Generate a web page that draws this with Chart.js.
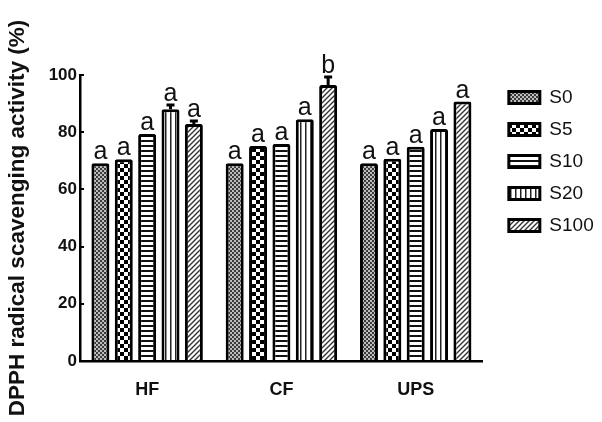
<!DOCTYPE html>
<html>
<head>
<meta charset="utf-8">
<script src="https://cdn.jsdelivr.net/npm/chart.js@4.4.1/dist/chart.umd.min.js"></script>
<style>
  html, body { margin: 0; padding: 0; background: #fff; }
  canvas { display: block; }
</style>
</head>
<body>
<canvas id="c" width="602" height="422"></canvas>
<script>
// Sample groups on the x axis
const categories = ['HF', 'CF', 'UPS'];
// Sugar-treatment series
const seriesNames = ['S0', 'S5', 'S10', 'S20', 'S100'];
// DPPH radical scavenging activity (%) per series, in category order
const S0   = [69.1, 69.1, 69.1];
const S5   = [70.5, 75.2, 70.7];
const S10  = [79.4, 75.9, 74.9];
const S20  = [88.0, 84.5, 81.1];
const S100 = [82.9, 96.5, 90.7];
// Standard deviations
const errS0   = [0, 0, 0];
const errS5   = [0, 0, 0];
const errS10  = [0, 0, 0];
const errS20  = [1.5, 0, 0];
const errS100 = [1.0, 2.8, 0];
// Significance letters
const letS0   = ['a', 'a', 'a'];
const letS5   = ['a', 'a', 'a'];
const letS10  = ['a', 'a', 'a'];
const letS20  = ['a', 'a', 'a'];
const letS100 = ['a', 'b', 'a'];
// Y axis ticks
const yTicks = [0, 20, 40, 60, 80, 100];

const seriesValues = [S0, S5, S10, S20, S100];
const seriesErrors = [errS0, errS5, errS10, errS20, errS100];
const seriesLetters = [letS0, letS5, letS10, letS20, letS100];

const FONT = "'Liberation Sans', Arial, sans-serif";
const INK = '#111';

// ---- fill patterns ----
function tile(w, h, draw) {
  const cv = document.createElement('canvas');
  cv.width = w; cv.height = h;
  const g = cv.getContext('2d');
  g.fillStyle = '#fff';
  g.fillRect(0, 0, w, h);
  draw(g);
  return document.getElementById('c').getContext('2d').createPattern(cv, 'repeat');
}
const patterns = [
  // fine grey checker
  tile(4, 4, g => { g.fillStyle = '#3a3a3a'; g.fillRect(0, 0, 2, 2); g.fillRect(2, 2, 2, 2); g.fillStyle = '#bdbdbd'; g.fillRect(2, 0, 2, 2); g.fillRect(0, 2, 2, 2); }),
  // coarse black/white checker
  tile(8, 8, g => { g.fillStyle = '#000'; g.fillRect(0, 0, 4, 4); g.fillRect(4, 4, 4, 4); }),
  // horizontal stripes
  tile(4, 5, g => { g.fillStyle = '#111'; g.fillRect(0, 0, 4, 2); }),
  // vertical stripes
  tile(5, 4, g => { g.fillStyle = '#222'; g.fillRect(0, 0, 1.5, 4); }),
  // diagonal hatch
  tile(5, 5, g => {
    g.strokeStyle = '#333'; g.lineWidth = 1.4;
    g.beginPath();
    g.moveTo(-1, 6); g.lineTo(6, -1);
    g.moveTo(-1, 1); g.lineTo(1, -1);
    g.moveTo(4, 6); g.lineTo(6, 4);
    g.stroke();
  })
];

const datasets = seriesNames.map((name, i) => ({
  label: name,
  data: seriesValues[i],
  backgroundColor: patterns[i],
  borderColor: '#000',
  borderWidth: 3,
  borderRadius: 2,
  borderSkipped: 'bottom',
  categoryPercentage: 0.87,
  barPercentage: 0.77
}));

// error bars and significance letters, placed through the scales
const annotate = {
  id: 'annotate',
  afterDatasetsDraw(chart) {
    const ctx = chart.ctx;
    const y = chart.scales.y;
    ctx.save();
    chart.data.datasets.forEach((ds, i) => {
      const meta = chart.getDatasetMeta(i);
      meta.data.forEach((bar, j) => {
        const v = seriesValues[i][j];
        const e = seriesErrors[i][j];
        const x = bar.x;
        const yTop = y.getPixelForValue(v + e);
        if (e > 0) {
          ctx.strokeStyle = '#000';
          ctx.lineWidth = 3;
          ctx.beginPath();
          ctx.moveTo(x, y.getPixelForValue(v));
          ctx.lineTo(x, yTop);
          ctx.moveTo(x - 4, yTop);
          ctx.lineTo(x + 4, yTop);
          ctx.stroke();
        }
        ctx.fillStyle = INK;
        ctx.font = '25px ' + FONT;
        ctx.textAlign = 'center';
        ctx.textBaseline = 'alphabetic';
        ctx.fillText(seriesLetters[i][j], x, yTop - 4);
      });
    });
    ctx.restore();
  }
};

new Chart(document.getElementById('c'), {
  type: 'bar',
  data: { labels: categories, datasets },
  plugins: [annotate],
  options: {
    responsive: false,
    animation: false,
    devicePixelRatio: 1,
    layout: { padding: { top: 75, right: 7, bottom: 0, left: 0 } },
    plugins: {
      tooltip: { enabled: false },
      legend: {
        position: 'right',
        align: 'start',
        labels: {
          boxWidth: 31,
          boxHeight: 12,
          padding: 13,
          color: INK,
          font: { family: FONT, size: 19 }
        }
      }
    },
    scales: {
      x: {
        grid: { display: false },
        border: { display: true, color: '#000', width: 2.5 },
        ticks: { color: INK, padding: 10, font: { family: FONT, size: 18, weight: 'bold' } },
        afterFit(s) { s.height = 61; }
      },
      y: {
        min: 0,
        max: 100,
        afterBuildTicks(s) { s.ticks = yTicks.map(v => ({ value: v })); },
        grid: { display: true, drawOnChartArea: false, drawTicks: true, tickLength: -4, color: '#000', lineWidth: 2 },
        border: { display: true, color: '#000', width: 2.5 },
        ticks: { color: INK, padding: 7, font: { family: FONT, size: 17, weight: 'bold' } },
        title: {
          display: true,
          text: 'DPPH radical scavenging activity (%)',
          color: INK,
          padding: { top: 4, bottom: 0 },
          font: { family: FONT, size: 22.5, weight: 'bold' }
        },
        afterFit(s) { s.width = 80; }
      },
      gap: {
        position: 'right',
        display: true,
        grid: { display: false, drawTicks: false },
        border: { display: false },
        ticks: { display: false },
        afterFit(s) { s.width = 13; }
      }
    }
  }
});
</script>
</body>
</html>
